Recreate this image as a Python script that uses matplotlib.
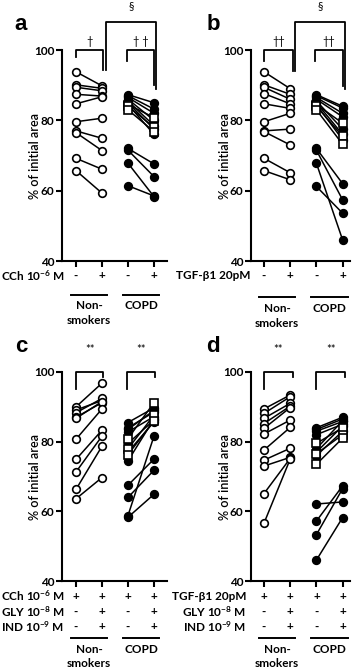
import numpy as np
import matplotlib
matplotlib.use('Agg')
import matplotlib.pyplot as plt

plt.rcParams['font.family'] = ['Lato', 'DejaVu Sans']
plt.rcParams['mathtext.fontset'] = 'custom'
plt.rcParams['mathtext.rm'] = 'Lato:bold'
plt.rcParams['mathtext.it'] = 'Lato:bold'
plt.rcParams['mathtext.bf'] = 'Lato:bold'

# ---- data (% of initial area) ----
# panel a: CCh 10^-6 M
ns_a_pre = [93.8, 90.1, 89.4, 87.4, 84.7, 79.6, 77.0, 76.5, 69.2, 65.7]
ns_a_post = [89.8, 89.1, 88.4, 86.9, 86.7, 80.6, 74.9, 71.4, 66.1, 59.3]
copd_a_pre = [87.3, 87.0, 86.5, 86.0, 85.5, 85.0, 84.5, 72.0, 71.5, 67.8, 61.4]
copd_a_post = [85.0, 83.2, 82.0, 80.0, 78.5, 77.5, 76.0, 67.6, 64.0, 58.3, 58.5]
copd_a_sq_pre = [84.5, 84.0, 83.0]
copd_a_sq_post = [80.8, 78.0, 76.8]

# panel b: TGF-b1 20pM
ns_b_pre = [93.8, 90.1, 89.4, 87.6, 84.7, 79.6, 77.0, 76.8, 69.2, 65.7]
ns_b_post = [89.0, 87.4, 86.0, 84.7, 83.4, 82.0, 77.5, 73.0, 65.1, 63.1]
copd_b_pre = [87.3, 87.0, 86.5, 86.0, 85.5, 85.0, 84.5, 72.0, 71.5, 67.8, 61.2]
copd_b_post = [84.0, 83.5, 82.0, 81.0, 77.5, 76.0, 74.5, 62.0, 57.4, 46.0, 53.6]
copd_b_sq_pre = [84.5, 84.0, 83.0]
copd_b_sq_post = [79.2, 75.5, 73.2]

# panel c: CCh + GLY + IND
ns_c_pre = [90.0, 89.1, 88.3, 87.0, 86.7, 80.7, 74.9, 71.3, 66.3, 63.6]
ns_c_post = [96.8, 91.8, 92.4, 91.2, 91.5, 89.4, 83.3, 81.6, 78.7, 69.7]
copd_c_pre = [85.5, 84.0, 83.5, 82.8, 79.5, 77.0, 74.5, 67.5, 64.0, 58.8, 58.3]
copd_c_post = [89.7, 88.5, 89.0, 87.2, 86.2, 85.7, 86.5, 75.0, 71.8, 81.6, 64.9]
copd_c_sq_pre = [80.9, 78.0, 76.3]
copd_c_sq_post = [91.2, 87.6, 86.0]

# panel d: TGF-b1 + GLY + IND
ns_d_pre = [89.4, 88.1, 86.7, 85.2, 83.8, 82.2, 77.6, 74.7, 73.0, 65.1, 56.6]
ns_d_post = [93.4, 92.9, 91.0, 90.2, 89.8, 86.2, 84.1, 78.1, 75.5, 75.2, 75.0]
copd_d_pre = [84.0, 83.5, 83.0, 82.0, 78.0, 76.0, 77.0, 62.1, 57.2, 53.3, 46.0]
copd_d_post = [87.0, 86.5, 85.8, 85.0, 86.0, 83.0, 84.5, 62.7, 67.3, 66.5, 58.2]
copd_d_sq_pre = [79.5, 76.5, 73.5]
copd_d_sq_post = [84.0, 82.0, 81.0]

row_a = ['CCh 10$^{-6}$ M']
row_b = ['TGF-β1 20pM']
row_c = ['CCh 10$^{-6}$ M', 'GLY 10$^{-8}$ M', 'IND 10$^{-9}$ M']
row_d = ['TGF-β1 20pM', 'GLY 10$^{-8}$ M', 'IND 10$^{-9}$ M']
signs_a = [['-', '+', '-', '+']]
signs_b = [['-', '+', '-', '+']]
signs_c = [['+', '+', '+', '+'], ['-', '+', '-', '+'], ['-', '+', '-', '+']]
signs_d = [['+', '+', '+', '+'], ['-', '+', '-', '+'], ['-', '+', '-', '+']]

W, H = 358, 670
fig = plt.figure(figsize=(W / 100, H / 100), dpi=100)
FS = 8.5


def make_ax(left, right, top, bottom, x1px, dx):
    ax = fig.add_axes([left / W, 1 - bottom / H, (right - left) / W, (bottom - top) / H])
    ax.set_xlim(1 - (x1px - left) / dx, 1 + (right - x1px) / dx)
    ax.set_ylim(40, 100)
    for s in ['top', 'right']:
        ax.spines[s].set_visible(False)
    for s in ['left', 'bottom']:
        ax.spines[s].set_linewidth(1.5)
    ax.set_yticks([40, 60, 80, 100])
    ax.set_xticks([1, 2, 3, 4])
    ax.set_xticklabels([])
    ax.tick_params(axis='both', width=1.5, length=4, pad=1.5, labelsize=FS)
    for t in ax.get_yticklabels():
        t.set_fontweight('bold')
    ax.set_ylabel('% of initial area', fontsize=9, fontweight='semibold')
    ax.yaxis.set_label_coords(-0.2, 0.5)
    return ax


def draw_pairs(ax, x0, pre, post, marker, face):
    for a, b in zip(pre, post):
        ax.plot([x0, x0 + 1], [a, b], color='black', lw=1.1, zorder=2, clip_on=False)
    ax.plot([x0] * len(pre), pre, ls='none', marker=marker, ms=5.5, mfc=face,
            mec='black', mew=1.2, zorder=3, clip_on=False)
    ax.plot([x0 + 1] * len(post), post, ls='none', marker=marker, ms=5.5, mfc=face,
            mec='black', mew=1.2, zorder=3, clip_on=False)


def bracket(ax, x1, x2, yl, yr, ytop, label, ylab):
    ax.plot([x1, x1, x2, x2], [yl, ytop, ytop, yr], color='black', lw=1.3, clip_on=False)
    ax.text((x1 + x2) / 2, ylab, label, ha='center', va='center', fontsize=8, clip_on=False)


def bottom_rows(ax, rows, signs, lab_x, ha, ys, line_y, non_y, smk_y):
    tr = ax.get_xaxis_transform()
    for r, lab in enumerate(rows):
        fig.text(lab_x / W, 0, lab, ha=ha, va='center', fontsize=FS, fontweight='bold',
                 transform=matplotlib.transforms.blended_transform_factory(fig.transFigure, ax.transAxes),
                 ).set_y(ys[r])
        for i, s in enumerate(signs[r]):
            ax.text(i + 1, ys[r], s, transform=tr, ha='center', va='center',
                    fontsize=FS, fontweight='bold')
    for c in [1.5, 3.5]:
        ax.plot([c - 0.7, c + 0.7], [line_y, line_y], transform=tr, color='black',
                lw=1.4, clip_on=False)
    ax.text(1.5, non_y, 'Non-', transform=tr, ha='center', va='center', fontsize=FS,
            fontweight='bold')
    ax.text(1.5, smk_y, 'smokers', transform=tr, ha='center', va='center', fontsize=FS,
            fontweight='bold')
    ax.text(3.5, non_y, 'COPD', transform=tr, ha='center', va='center', fontsize=FS,
            fontweight='bold')


# panel a
ax = make_ax(62, 167, 50, 261, 76, 26)
draw_pairs(ax, 1, ns_a_pre, ns_a_post, 'o', 'white')
draw_pairs(ax, 3, copd_a_pre, copd_a_post, 'o', 'black')
draw_pairs(ax, 3, copd_a_sq_pre, copd_a_sq_post, 's', 'white')
bracket(ax, 1, 2.05, 98, 94.3, 100, '†', 102.5)
bracket(ax, 2.95, 4.0, 97, 90, 100, '† †', 102.5)
bracket(ax, 2.17, 4.08, 94.3, 89, 108, '§', 112.5)
ax.text(-0.45, 1.12, 'a', transform=ax.transAxes, fontsize=16, fontweight='bold',
        family='Liberation Sans', ha='left', va='center')
bottom_rows(ax, row_a, signs_a, 1, 'left', [-0.071], -0.161, -0.21, -0.28)

# panel b
ax = make_ax(251, 350, 50, 261, 264, 26.2)
draw_pairs(ax, 1, ns_b_pre, ns_b_post, 'o', 'white')
draw_pairs(ax, 3, copd_b_pre, copd_b_post, 'o', 'black')
draw_pairs(ax, 3, copd_b_sq_pre, copd_b_sq_post, 's', 'white')
bracket(ax, 1, 2.1, 97, 94.1, 100, '††', 102.5)
bracket(ax, 2.95, 4.0, 97, 89.8, 100, '††', 102.5)
bracket(ax, 2.2, 4.1, 94.1, 89, 108, '§', 112.5)
ax.text(-0.45, 1.12, 'b', transform=ax.transAxes, fontsize=16, fontweight='bold',
        family='Liberation Sans', ha='left', va='center')
bottom_rows(ax, row_b, signs_b, 251, 'right', [-0.071], -0.171, -0.223, -0.294)

# panel c
ax = make_ax(62, 167, 372, 581, 76, 26)
draw_pairs(ax, 1, ns_c_pre, ns_c_post, 'o', 'white')
draw_pairs(ax, 3, copd_c_pre, copd_c_post, 'o', 'black')
draw_pairs(ax, 3, copd_c_sq_pre, copd_c_sq_post, 's', 'white')
bracket(ax, 1, 2.05, 95, 98.5, 100, '**', 106.5)
bracket(ax, 2.95, 4.05, 95, 98.5, 100, '**', 106.5)
ax.text(-0.45, 1.12, 'c', transform=ax.transAxes, fontsize=16, fontweight='bold',
        family='Liberation Sans', ha='left', va='center')
bottom_rows(ax, row_c, signs_c, 1, 'left', [-0.072, -0.148, -0.22], -0.273, -0.33, -0.397)

# panel d
ax = make_ax(251, 350, 372, 581, 264, 26.2)
draw_pairs(ax, 1, ns_d_pre, ns_d_post, 'o', 'white')
draw_pairs(ax, 3, copd_d_pre, copd_d_post, 'o', 'black')
draw_pairs(ax, 3, copd_d_sq_pre, copd_d_sq_post, 's', 'white')
bracket(ax, 1, 2.1, 95, 98.5, 100, '**', 106.5)
bracket(ax, 3.0, 4.1, 95, 98.5, 100, '**', 106.5)
ax.text(-0.45, 1.12, 'd', transform=ax.transAxes, fontsize=16, fontweight='bold',
        family='Liberation Sans', ha='left', va='center')
bottom_rows(ax, row_d, signs_d, 246, 'right', [-0.072, -0.148, -0.22], -0.273, -0.33, -0.397)

fig.savefig('out.png', dpi=100)
